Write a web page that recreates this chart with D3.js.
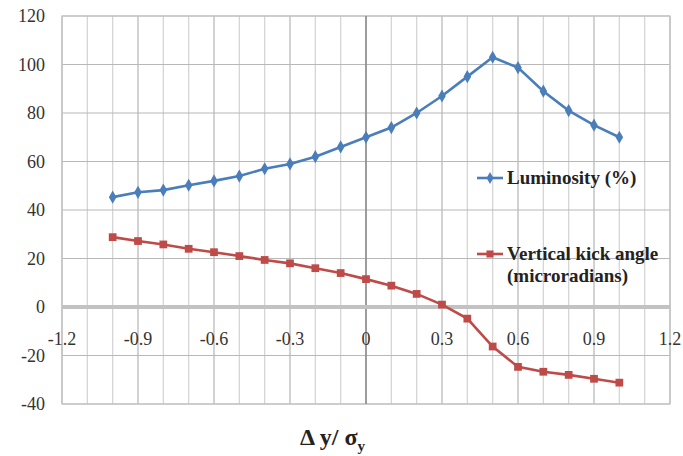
<!DOCTYPE html>
<html>
<head>
<meta charset="utf-8">
<script src="https://cdn.jsdelivr.net/npm/d3@7"></script>
<style>
  body { margin: 0; background: #fff; }
  svg { display: block; }
</style>
</head>
<body>
<div id="chart"></div>
<script>
const W = 683, H = 456;
const M = { left: 62, right: 13, top: 16, bottom: 52 };

// data
const xVals = [-1.0, -0.9, -0.8, -0.7, -0.6, -0.5, -0.4, -0.3, -0.2, -0.1, 0, 0.1, 0.2, 0.3, 0.4, 0.5, 0.6, 0.7, 0.8, 0.9, 1.0];
const luminosity = [45.3, 47.3, 48.2, 50.2, 52, 54, 57, 59, 62, 66, 70, 74, 80, 87, 95, 103, 98.7, 89, 81, 75, 70];
const kickAngle = [28.8, 27.2, 25.8, 24, 22.6, 21, 19.4, 18, 16, 14, 11.5, 8.8, 5.4, 1.0, -4.8, -16.3, -24.7, -26.7, -28, -29.6, -31.2];
const xTicks = [-1.2, -0.9, -0.6, -0.3, 0, 0.3, 0.6, 0.9, 1.2];
const yTicks = [-40, -20, 0, 20, 40, 60, 80, 100, 120];
const seriesNames = ["Luminosity (%)", ["Vertical kick angle", "(microradians)"]];

const BLUE = "#4a7ebb", RED = "#be4b48";
const FONT = "'Liberation Serif', 'Times New Roman', serif";

const svg = d3.select("#chart").append("svg")
  .attr("width", W).attr("height", H);

const x = d3.scaleLinear().domain([-1.2, 1.2]).range([M.left, W - M.right]);
const y = d3.scaleLinear().domain([-40, 120]).range([H - M.bottom, M.top]);

// vertical grid every 0.1
const minor = d3.range(-12, 13).map(i => i / 10);
svg.append("g").selectAll("line").data(minor).enter().append("line")
  .attr("x1", d => x(d)).attr("x2", d => x(d))
  .attr("y1", y(120)).attr("y2", y(-40))
  .attr("stroke", (d, i) => (i % 3 === 0) ? "#b4b4b4" : "#d2d2d2")
  .attr("stroke-width", 1.2);

// horizontal grid
svg.append("g").selectAll("line").data(yTicks).enter().append("line")
  .attr("x1", x(-1.2)).attr("x2", x(1.2))
  .attr("y1", d => y(d)).attr("y2", d => y(d))
  .attr("stroke", "#b8b8b8").attr("stroke-width", 1.2);

// plot border
svg.append("rect")
  .attr("x", x(-1.2)).attr("y", y(120))
  .attr("width", x(1.2) - x(-1.2)).attr("height", y(-40) - y(120))
  .attr("fill", "none").attr("stroke", "#c4c4c4").attr("stroke-width", 1.2);

// y axis at x = 0
svg.append("line")
  .attr("x1", x(0)).attr("x2", x(0)).attr("y1", y(120)).attr("y2", y(-40))
  .attr("stroke", "#7a7a7a").attr("stroke-width", 1.2);

// x axis at y = 0 (thick gray)
svg.append("line")
  .attr("x1", x(-1.2)).attr("x2", x(1.2)).attr("y1", y(0)).attr("y2", y(0))
  .attr("stroke", "#c2c2c2").attr("stroke-width", 4);

// y tick labels
svg.append("g").selectAll("text").data(yTicks).enter().append("text")
  .attr("x", 45).attr("y", d => y(d)).attr("dy", "0.35em")
  .attr("text-anchor", "end")
  .attr("font-family", FONT).attr("font-size", 18).attr("fill", "#333")
  .text(d => d);

// x tick labels
svg.append("g").selectAll("text").data(xTicks).enter().append("text")
  .attr("x", d => x(d)).attr("y", y(0) + 38)
  .attr("text-anchor", "middle")
  .attr("font-family", FONT).attr("font-size", 18).attr("fill", "#333")
  .text(d => String(d));

const pts = (vals) => xVals.map((d, i) => [d, vals[i]]);
const line = d3.line().x(d => x(d[0])).y(d => y(d[1]));

function drawSeries(vals, color, shape) {
  svg.append("path").datum(pts(vals))
    .attr("d", line).attr("fill", "none")
    .attr("stroke", color).attr("stroke-width", 2.6);
  svg.append("g").selectAll("path").data(pts(vals)).enter().append("path")
    .attr("transform", d => `translate(${x(d[0])},${y(d[1])})`)
    .attr("d", d3.symbol().type(shape).size(shape === d3.symbolSquare ? 60 : 50))
    .attr("fill", color);
}
drawSeries(luminosity, BLUE, d3.symbolDiamond);
drawSeries(kickAngle, RED, d3.symbolSquare);

// legend
function legendItem(ly, color, shape, lines) {
  svg.append("line").attr("x1", 477).attr("x2", 503).attr("y1", ly).attr("y2", ly)
    .attr("stroke", color).attr("stroke-width", 2.6);
  svg.append("path").attr("transform", `translate(490,${ly})`)
    .attr("d", d3.symbol().type(shape).size(shape === d3.symbolSquare ? 50 : 40))
    .attr("fill", color);
  const t = svg.append("text")
    .attr("font-family", FONT).attr("font-size", 19).attr("font-weight", "bold")
    .attr("fill", "#222");
  [].concat(lines).forEach((s, i) => {
    t.append("tspan").attr("x", 507).attr("y", ly + 6 + i * 22).text(s);
  });
}
legendItem(178, BLUE, d3.symbolDiamond, seriesNames[0]);
legendItem(254, RED, d3.symbolSquare, seriesNames[1]);

// x title
const title = svg.append("text")
  .attr("x", 300).attr("y", 445)
  .attr("font-family", FONT).attr("font-size", 24).attr("font-weight", "bold")
  .attr("fill", "#222");
title.append("tspan").text("Δ y/ σ");
title.append("tspan").attr("font-size", 15).attr("dy", 6).text("y");
</script>
</body>
</html>
